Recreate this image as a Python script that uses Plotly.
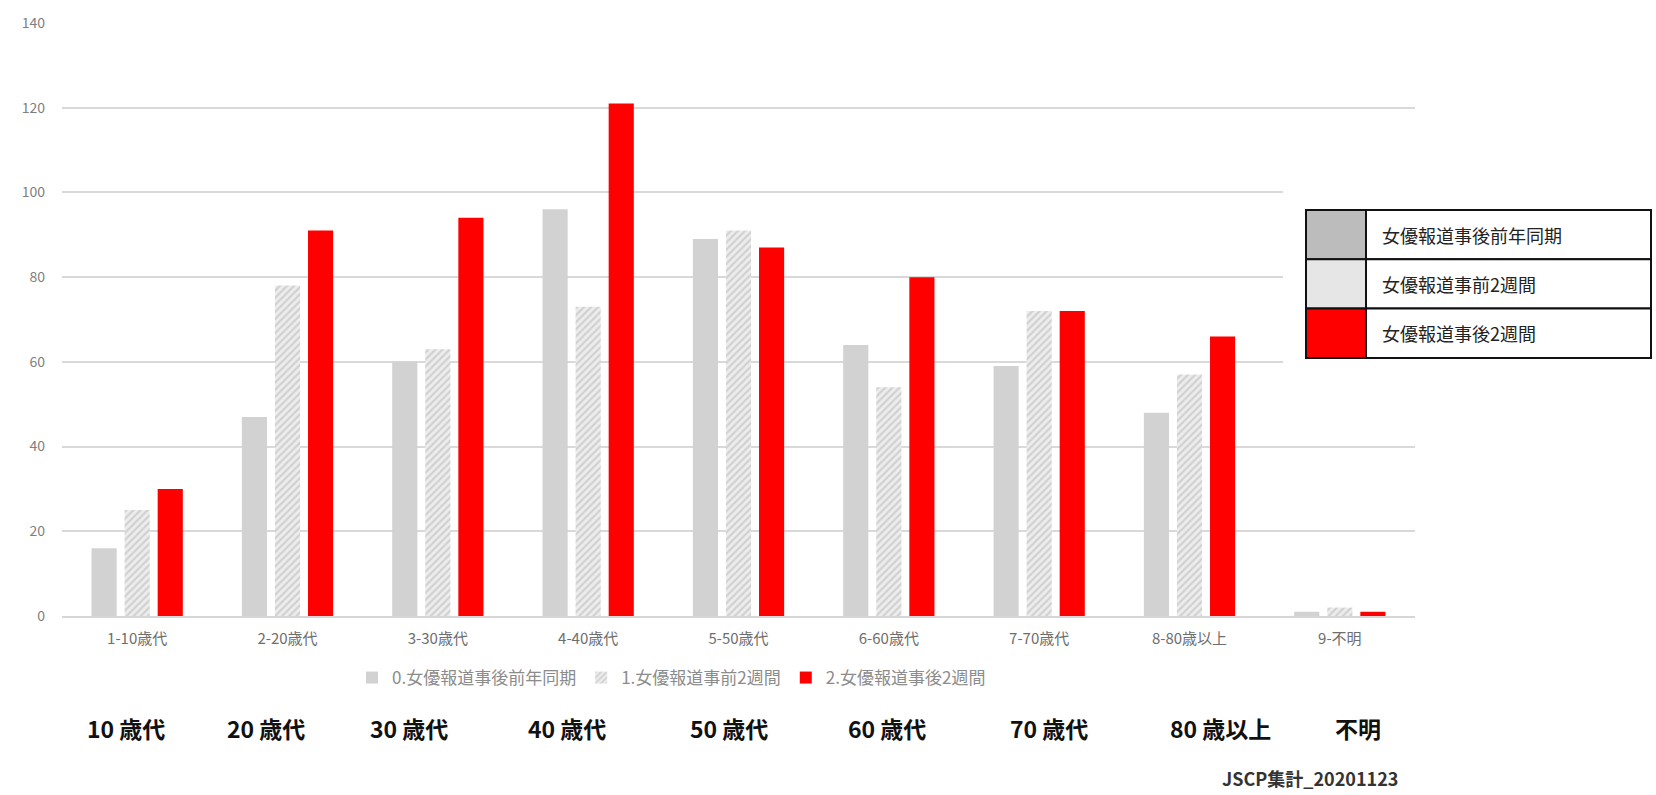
import plotly.graph_objects as go

# Age groups and counts per period
categories = ["1-10歳代", "2-20歳代", "3-30歳代", "4-40歳代", "5-50歳代",
              "6-60歳代", "7-70歳代", "8-80歳以上", "9-不明"]
series_names = ["0.女優報道事後前年同期", "1.女優報道事前2週間", "2.女優報道事後2週間"]
prev_year = [16, 47, 60, 96, 89, 64, 59, 48, 1]
before_2w = [25, 78, 63, 73, 91, 54, 72, 57, 2]
after_2w = [30, 91, 94, 121, 87, 80, 72, 66, 1]

y_ticks = [0, 20, 40, 60, 80, 100, 120, 140]

# Large age labels under the chart
row_labels = ["10 歳代", "20 歳代", "30 歳代", "40 歳代", "50 歳代",
              "60 歳代", "70 歳代", "80 歳以上", "不明"]
row_label_x = [0.0473, 0.1508, 0.2565, 0.3732, 0.4930, 0.6098, 0.7295, 0.8566, 0.9579]

# Boxed key on the right
key_labels = ["女優報道事後前年同期", "女優報道事前2週間", "女優報道事後2週間"]
key_colors = ["#bcbcbc", "#e6e6e6", "#ff0000"]

FONT = "Noto Sans CJK JP"

fig = go.Figure()
fig.add_trace(go.Bar(x=categories, y=prev_year, name=series_names[0],
                     marker=dict(color="#d2d2d2", line=dict(width=0))))
fig.add_trace(go.Bar(x=categories, y=before_2w, name=series_names[1],
                     marker=dict(color="#ececec", line=dict(width=0),
                                 pattern=dict(shape="/", fgcolor="#b4b4b4",
                                              bgcolor="#ededed", size=5,
                                              solidity=0.45))))
fig.add_trace(go.Bar(x=categories, y=after_2w, name=series_names[2],
                     marker=dict(color="#ff0000", line=dict(width=0))))

W, H = 1656, 795
ml, mr, mt, mb = 62, 241, 23, 179
pw, ph = W - ml - mr, H - mt - mb


def px_x(x):
    return (x - ml) / pw


def px_y(y):
    return (H - mb - y) / ph


fig.update_layout(
    width=W, height=H,
    margin=dict(l=ml, r=mr, t=mt, b=mb),
    paper_bgcolor="white", plot_bgcolor="white",
    barmode="group", bargap=0.34, bargroupgap=0.24,
    font=dict(family=FONT),
    showlegend=True,
    legend=dict(orientation="h", x=px_x(352), xanchor="left",
                y=px_y(678), yanchor="middle",
                font=dict(size=17, color="#8c8c8c", family=FONT),
                bgcolor="rgba(0,0,0,0)", itemsizing="constant"),
)
fig.update_xaxes(showline=True, linecolor="#d6d6d6", linewidth=1.5,
                 showgrid=False, ticks="", ticklabelstandoff=8,
                 tickfont=dict(size=15, color="#6e6e6e", family=FONT),
                 range=[-0.5, 8.5])
fig.update_yaxes(range=[0, 140], tickvals=y_ticks, showgrid=True,
                 gridcolor="#d9d9d9", gridwidth=1.5, zeroline=False,
                 showline=False, ticks="", ticklabelstandoff=16,
                 tickfont=dict(size=14, color="#7f7f7f", family=FONT))

# Big age labels
for txt, xp in zip(row_labels, row_label_x):
    fig.add_annotation(text=txt, xref="paper", yref="paper", x=xp, y=px_y(728),
                       xanchor="center", yanchor="middle", showarrow=False,
                       font=dict(size=23, color="#111111", family=FONT, weight="bold"))

# Source note
fig.add_annotation(text="JSCP集計_20201123", xref="paper", yref="paper",
                   x=px_x(1220), y=px_y(778), xanchor="left", yanchor="middle",
                   showarrow=False,
                   font=dict(size=18, color="#333333", family=FONT, weight="bold"))

# Boxed key: white backing, cells, swatches and labels
shapes = [dict(type="rect", xref="paper", yref="paper",
               x0=px_x(1283), x1=px_x(1656), y0=px_y(385), y1=px_y(183),
               fillcolor="white", line=dict(width=0), layer="above")]
box_l, box_r, box_t, row_h, sw_r = 1306, 1651, 210, 49.3, 1366
for i, (lab, col) in enumerate(zip(key_labels, key_colors)):
    top = box_t + i * row_h
    bot = top + row_h
    shapes.append(dict(type="rect", xref="paper", yref="paper",
                       x0=px_x(box_l), x1=px_x(sw_r), y0=px_y(bot), y1=px_y(top),
                       fillcolor=col, line=dict(color="#111111", width=2), layer="above"))
    shapes.append(dict(type="rect", xref="paper", yref="paper",
                       x0=px_x(sw_r), x1=px_x(box_r), y0=px_y(bot), y1=px_y(top),
                       fillcolor="white", line=dict(color="#111111", width=2), layer="above"))
    fig.add_annotation(text=lab, xref="paper", yref="paper",
                       x=px_x(1380), y=px_y((top + bot) / 2),
                       xanchor="left", yanchor="middle", showarrow=False,
                       font=dict(size=18, color="#222222", family=FONT))
fig.update_layout(shapes=shapes)

fig.write_html("out.html")
